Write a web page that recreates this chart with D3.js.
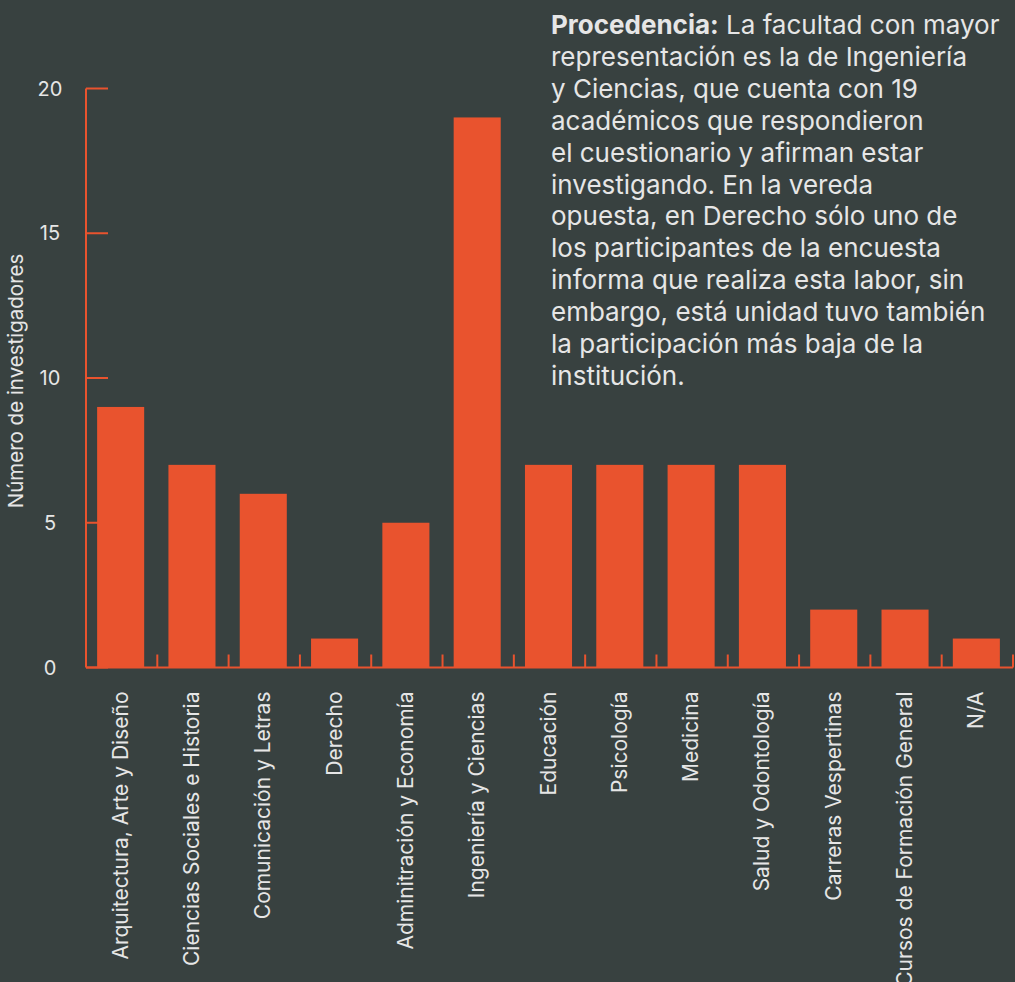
<!DOCTYPE html>
<html>
<head>
<meta charset="utf-8">
<script src="https://cdn.jsdelivr.net/npm/d3@7"></script>
<style>
  html, body { margin: 0; padding: 0; background: #384140; }
  svg { display: block; }
  text { font-family: "Inter", "Noto Sans", sans-serif; fill: #e6e6e6; }
</style>
</head>
<body>
<div id="chart"></div>
<script>
const width = 1015;
const height = 982;

// facultades y número de investigadores
const faculties = [
  'Arquitectura, Arte y Diseño',
  'Ciencias Sociales e Historia',
  'Comunicación y Letras',
  'Derecho',
  'Adminitración y Economía',
  'Ingeniería y Ciencias',
  'Educación',
  'Psicología',
  'Medicina',
  'Salud y Odontología',
  'Carreras Vespertinas',
  'Cursos de Formación General',
  'N/A'
];
const researchers = [9, 7, 6, 1, 5, 19, 7, 7, 7, 7, 2, 2, 1];
const y_ticks = [0, 5, 10, 15, 20];

// texto de la nota, ya cortado por líneas
const note_lines = [
  ['Procedencia:', ' La facultad con mayor'],
  ['', 'representación es la de Ingeniería'],
  ['', 'y Ciencias, que cuenta con 19'],
  ['', 'académicos que respondieron'],
  ['', 'el cuestionario y afirman estar'],
  ['', 'investigando. En la vereda'],
  ['', 'opuesta, en Derecho sólo uno de'],
  ['', 'los participantes de la encuesta'],
  ['', 'informa que realiza esta labor, sin'],
  ['', 'embargo, está unidad tuvo también'],
  ['', 'la participación más baja de la'],
  ['', 'institución.']
];

const orange = '#e9532e';
const margin = {left: 86, right: 2, top: 88.5, bottom: 314.5};

const svg = d3.select('#chart')
  .append('svg')
  .attr('width', width)
  .attr('height', height);

const x = d3.scaleBand()
  .domain(faculties)
  .range([margin.left, width - margin.right]);

const y = d3.scaleLinear()
  .domain([0, 20])
  .range([height - margin.bottom, margin.top]);

const bar_w = x.bandwidth() * 0.66;

// eje y: línea y marcas hacia dentro
svg.append('line')
  .attr('x1', margin.left).attr('x2', margin.left)
  .attr('y1', y(20)).attr('y2', y(0))
  .attr('stroke', orange).attr('stroke-width', 2);

svg.selectAll('.ytick')
  .data(y_ticks)
  .enter()
  .append('line')
  .attr('x1', margin.left).attr('x2', margin.left + 22)
  .attr('y1', d => y(d)).attr('y2', d => y(d))
  .attr('stroke', orange).attr('stroke-width', 2);

svg.selectAll('.ylabel')
  .data(y_ticks)
  .enter()
  .append('text')
  .attr('x', 50)
  .attr('y', d => y(d) + 7)
  .attr('text-anchor', 'middle')
  .attr('font-size', 20)
  .text(d => d);

svg.append('text')
  .attr('transform', `translate(23, ${y(10) + 3}) rotate(-90)`)
  .attr('text-anchor', 'middle')
  .attr('font-size', 20.5)
  .text('Número de investigadores');

// barras
svg.selectAll('.bar')
  .data(researchers)
  .enter()
  .append('rect')
  .attr('x', (d, i) => x(faculties[i]) + (x.bandwidth() - bar_w) / 2 - 1)
  .attr('y', d => y(d))
  .attr('width', bar_w)
  .attr('height', d => y(0) - y(d))
  .attr('fill', orange);

// eje x: línea y marcas entre categorías
svg.append('line')
  .attr('x1', margin.left).attr('x2', width - margin.right)
  .attr('y1', y(0)).attr('y2', y(0))
  .attr('stroke', orange).attr('stroke-width', 2);

svg.selectAll('.xtick')
  .data(faculties)
  .enter()
  .append('line')
  .attr('x1', d => x(d) + x.bandwidth()).attr('x2', d => x(d) + x.bandwidth())
  .attr('y1', y(0)).attr('y2', y(0) - 13)
  .attr('stroke', orange).attr('stroke-width', 2);

svg.selectAll('.xlabel')
  .data(faculties)
  .enter()
  .append('text')
  .attr('transform', d => `translate(${x(d) + x.bandwidth() / 2 + 6}, ${y(0) + 24}) rotate(-90)`)
  .attr('text-anchor', 'end')
  .attr('font-size', 21)
  .text(d => d);

// nota
const note = svg.append('text')
  .attr('x', 551)
  .attr('y', 34)
  .attr('font-size', 26);

note_lines.forEach(function (line, i) {
  let t = note.append('tspan')
    .attr('x', 551)
    .attr('y', 34 + i * 31.9);
  if (line[0] !== '') {
    t.attr('font-weight', 700).text(line[0]);
    note.append('tspan').text(line[1]);
  } else {
    t.text(line[1]);
  }
});
</script>
</body>
</html>
